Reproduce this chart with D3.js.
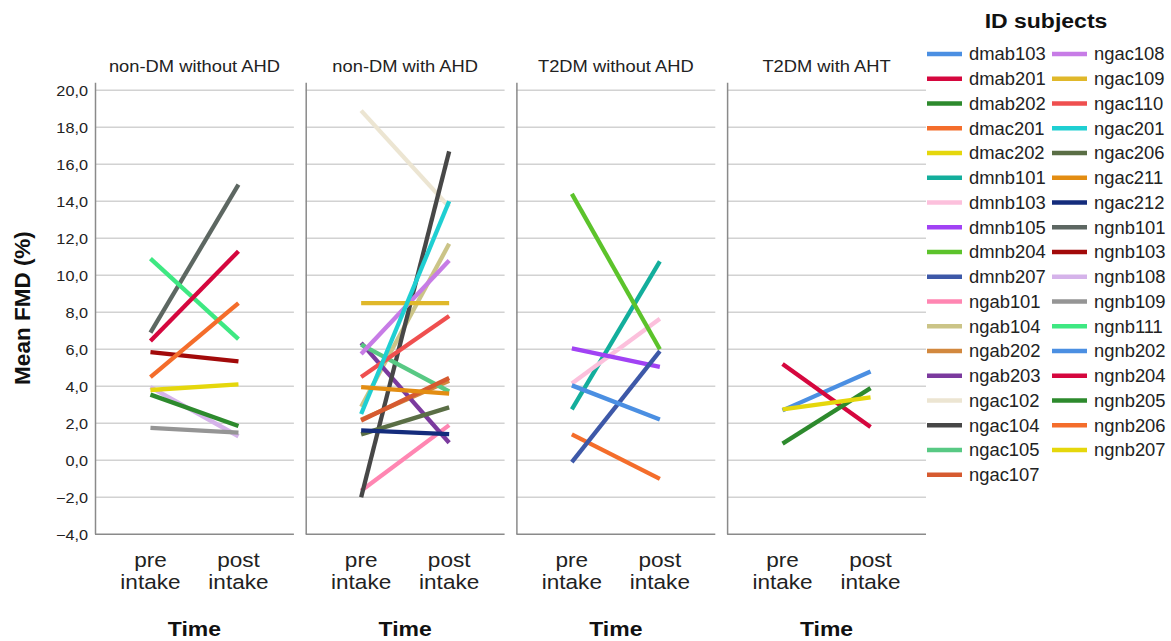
<!DOCTYPE html>
<html><head><meta charset="utf-8">
<script src="https://cdn.jsdelivr.net/npm/d3@7"></script>
<style>
body{margin:0;background:#fff;}
svg{display:block;font-family:"Liberation Sans",Arial,sans-serif;}
</style></head>
<body><svg id="c" width="1171" height="641"></svg>
<script>
// ---- data ----
const groups = ["non-DM without AHD","non-DM with AHD","T2DM without AHD","T2DM with AHT"];
const timePoints = ["pre\nintake","post\nintake"];
const yTicks = [-4,-2,0,2,4,6,8,10,12,14,16,18,20];

const legendIds = ["dmab103","dmab201","dmab202","dmac201","dmac202","dmnb101","dmnb103","dmnb105","dmnb204","dmnb207",
  "ngab101","ngab104","ngab202","ngab203","ngac102","ngac104","ngac105","ngac107",
  "ngac108","ngac109","ngac110","ngac201","ngac206","ngac211","ngac212","ngnb101","ngnb103","ngnb108","ngnb109","ngnb111",
  "ngnb202","ngnb204","ngnb205","ngnb206","ngnb207"];
const legendColors = ["#4b8fe2","#d5073e","#2d8a2d","#f46d2b","#e5d70c","#13ae9c","#fcc0dc","#a142f4","#5cc32b","#3d58a8",
  "#ff86b2","#cbc487","#d2883e","#7b3a9e","#ece5d2","#474747","#58c984","#d65a30",
  "#c77ce6","#e0b82a","#ef4f4f","#1fcfd2","#5a6e45","#e38d12","#142c7c","#5d6762","#a20a0a","#d5b3ea","#959595","#3ee882",
  "#4b8fe2","#d5073e","#2d8a2d","#f46d2b","#e5d70c"];

// subjects drawn (id, panel, pre, post)
const subjectIds = [
  "ngnb101","ngnb103","ngnb108","ngnb109","ngnb111","ngnb204","ngnb205","ngnb206","ngnb207",
  "ngab101","ngab104","ngab202","ngab203","ngac102","ngac104","ngac105","ngac107","ngac108","ngac109","ngac110","ngac201","ngac206","ngac211","ngac212",
  "dmac201","dmnb101","dmnb103","dmnb105","dmnb204","dmnb207","ngnb202",
  "dmab103","dmab201","dmab202","dmac202"];
const subjectGroup = [
  0,0,0,0,0,0,0,0,0,
  1,1,1,1,1,1,1,1,1,1,1,1,1,1,1,
  2,2,2,2,2,2,2,
  3,3,3,3];
const preValues = [
  6.9,5.85,3.95,1.75,10.9,6.45,3.55,4.5,3.8,
  -1.65,2.9,2.2,6.35,18.9,-2.0,6.25,2.15,5.75,8.5,4.5,2.5,1.4,3.95,1.62,
  1.4,2.75,4.15,6.05,14.4,-0.1,4.05,
  2.7,5.2,0.9,2.75];
const postValues = [
  14.9,5.35,1.3,1.5,6.55,11.3,1.85,8.5,4.1,
  1.9,11.7,4.3,0.95,13.7,16.7,3.72,4.45,10.8,8.5,7.8,14.0,2.86,3.6,1.42,
  -1.0,10.75,7.65,5.05,6.0,5.9,2.2,
  4.8,1.8,3.9,3.4];

// ---- drawing ----
const svg = d3.select("#c");
const colorOf = d3.scaleOrdinal().domain(legendIds).range(legendColors);
const fx = d3.scaleBand().domain(groups).range([95, 926]).paddingInner(0.056).paddingOuter(0);
const bw = fx.bandwidth();
const x = d3.scalePoint().domain(timePoints).range([0, bw]).padding(0.63);
const y = d3.scaleLinear().domain([-4, 20]).range([534.3, 90.3]);
const fmt = v => d3.format(".1f")(v).replace(".", ",");

function stretch(sel, k){
  sel.each(function(){
    const w = this.getComputedTextLength();
    d3.select(this).attr("textLength", w*k).attr("lengthAdjust","spacingAndGlyphs");
  });
}

// y tick labels
const yl = svg.append("g").selectAll("text").data(yTicks).join("text")
  .attr("x", 88).attr("y", d => y(d)).attr("dy","0.36em")
  .attr("text-anchor","end").attr("font-size",14.5).attr("fill","#222")
  .text(fmt);
stretch(yl, 1.12);

// y title
svg.append("text").attr("transform","translate(30,308) rotate(-90)")
  .attr("text-anchor","middle").attr("font-size",22.5).attr("font-weight","bold").attr("fill","#111")
  .text("Mean FMD (%)");

groups.forEach((g, gi) => {
  const p = svg.append("g").attr("transform", `translate(${fx(g)},0)`);
  // grid
  p.append("g").selectAll("line").data(yTicks.filter(t => t > -4)).join("line")
    .attr("x1", 0).attr("x2", bw).attr("y1", d => y(d)).attr("y2", d => y(d))
    .attr("stroke","#d2d2d2").attr("stroke-width",1.6);
  // axis lines
  p.append("line").attr("x1",0.5).attr("x2",0.5).attr("y1",y(20)-7.5).attr("y2",y(-4))
    .attr("stroke","#8a8a8a").attr("stroke-width",1.5);
  p.append("line").attr("x1",0).attr("x2",bw).attr("y1",y(-4)).attr("y2",y(-4))
    .attr("stroke","#8a8a8a").attr("stroke-width",1.5);
  // title
  const t = p.append("text").attr("x", bw/2).attr("y", 72.3).attr("text-anchor","middle")
    .attr("font-size",16.5).attr("fill","#222").text(g);
  stretch(t, 1.11);
  // x tick labels
  timePoints.forEach(tp => {
    const lines = tp.split("\n");
    lines.forEach((ln, li) => {
      const tt = p.append("text").attr("x", x(tp)).attr("y", 566.7 + li*22.6)
        .attr("text-anchor","middle").attr("font-size",20.5).attr("fill","#222").text(ln);
      stretch(tt, 1.1);
    });
  });
  // Time label
  const tl = p.append("text").attr("x", bw/2).attr("y", 636).attr("text-anchor","middle")
    .attr("font-size",20.5).attr("font-weight","bold").attr("fill","#111").text("Time");
  stretch(tl, 1.12);
  // data lines
  const idx = d3.range(subjectIds.length).filter(i => subjectGroup[i] === gi)
    .sort((a,b) => legendIds.indexOf(subjectIds[a]) - legendIds.indexOf(subjectIds[b]));
  p.append("g").selectAll("line").data(idx).join("line")
    .attr("x1", x(timePoints[0])).attr("x2", x(timePoints[1]))
    .attr("y1", i => y(preValues[i])).attr("y2", i => y(postValues[i]))
    .attr("stroke", i => colorOf(subjectIds[i])).attr("stroke-width",4.3);
});

// legend
const lt = svg.append("text").attr("x",1046).attr("y",28).attr("text-anchor","middle")
  .attr("font-size",20).attr("font-weight","bold").attr("fill","#111").text("ID subjects");
stretch(lt, 1.15);
const perCol = 18;
const lg = svg.append("g").selectAll("g").data(legendIds).join("g")
  .attr("transform", (d,i) => `translate(${i < perCol ? 927 : 1052},${54 + (i % perCol)*24.75})`);
lg.append("line").attr("x1",0).attr("x2",35).attr("y1",0).attr("y2",0)
  .attr("stroke", d => colorOf(d)).attr("stroke-width",4.5);
const lgt = lg.append("text").attr("x",42).attr("y",0).attr("dy","0.36em")
  .attr("font-size",17.5).attr("fill","#222").text(d => d);
stretch(lgt, 1.05);
</script></body></html>
